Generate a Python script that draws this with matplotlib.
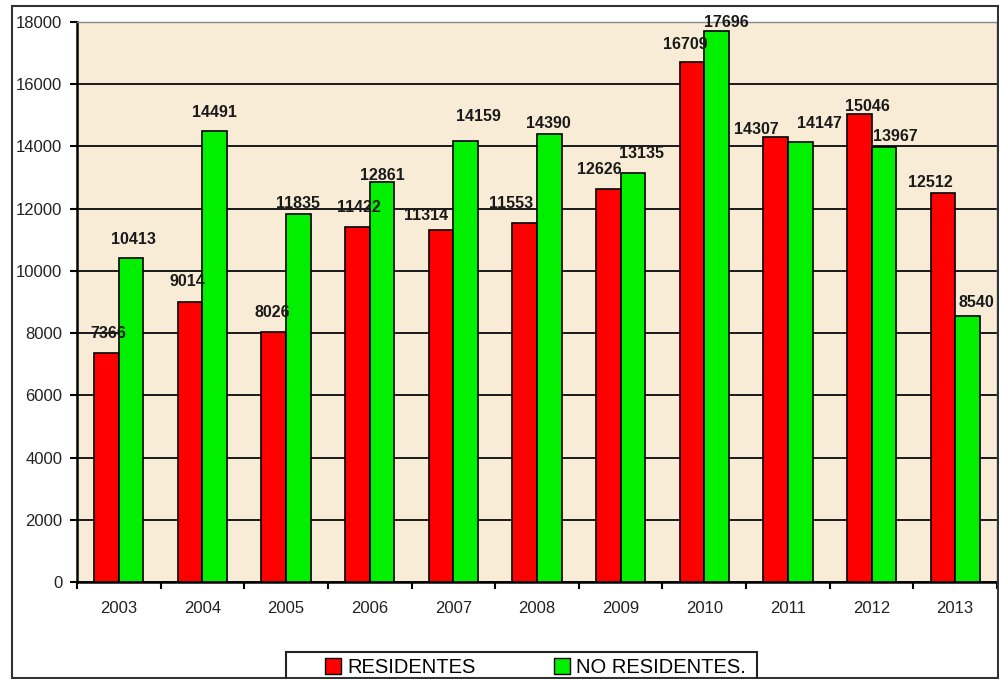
import matplotlib
matplotlib.use("Agg")
import matplotlib.pyplot as plt
import numpy as np
from matplotlib.patches import Rectangle, Patch

years = ["2003", "2004", "2005", "2006", "2007", "2008", "2009", "2010", "2011", "2012", "2013"]
residentes = [7366, 9014, 8026, 11422, 11314, 11553, 12626, 16709, 14307, 15046, 12512]
no_residentes = [10413, 14491, 11835, 12861, 14159, 14390, 13135, 17696, 14147, 13967, 8540]
yticks = [0, 2000, 4000, 6000, 8000, 10000, 12000, 14000, 16000, 18000]
legend_labels = ["RESIDENTES", "NO RESIDENTES."]

# label placement (pixel offsets of each value label from its bar top centre)
res_dx = [2, -3, -1, 2, -15, -14, -9, -7, -19, 8, -12]
res_dy = [15, 16, 15, 15, 10, 15, 15, 13, 3, 3, 6]
nores_dx = [2, 0, 0, 0, 13, -1, 9, 10, 19, 11, 9]
nores_dy = [14, 14, 6, 2, 20, 6, 15, 4, 14, 6, 9]

plt.rcParams['font.family'] = ['Liberation Sans', 'DejaVu Sans']

W, H = 999, 679
fig = plt.figure(figsize=(W / 100, H / 100), dpi=100)
fig.patch.set_facecolor("white")

# outer frame
fig.patches.append(Rectangle((12 / W, 1 - 678 / H), (998 - 12) / W, (678 - 6) / H,
                             transform=fig.transFigure, fill=False,
                             edgecolor="#333333", linewidth=1.5))

ax = fig.add_axes([77 / W, 1 - 582 / H, (997 - 77) / W, (582 - 22) / H])
ax.set_facecolor("#F9ECD6")

x = np.arange(len(years))
w = 0.295
b1 = ax.bar(x - w / 2, residentes, w, color="#FF0000", edgecolor="black", linewidth=1.2,
            label=legend_labels[0], zorder=3)
b2 = ax.bar(x + w / 2, no_residentes, w, color="#00F000", edgecolor="black", linewidth=1.2,
            label=legend_labels[1], zorder=3)

for bars, vals, dxs, dys in ((b1, residentes, res_dx, res_dy), (b2, no_residentes, nores_dx, nores_dy)):
    for rect, v, dx, dy in zip(bars, vals, dxs, dys):
        ax.annotate(str(v), (rect.get_x() + rect.get_width() / 2, v),
                    xytext=(dx, dy), textcoords="offset pixels",
                    ha="center", va="baseline", fontsize=11.5, fontweight="bold",
                    color="#1a1a1a", zorder=5, annotation_clip=False)

ax.set_xlim(-0.5, len(years) - 0.5)
ax.set_ylim(0, 18000)
ax.set_yticks(yticks)
ax.set_yticklabels([str(t) for t in yticks], fontsize=12, color="#222222")
ax.set_xticks(x)
ax.set_xticklabels(years, fontsize=12, color="#222222")
ax.tick_params(axis="x", length=0, pad=14)
ax.set_xticks(np.arange(len(years) + 1) - 0.5, minor=True)
ax.tick_params(axis="x", which="minor", length=5, width=1.5, direction="out", color="black")
ax.tick_params(axis="y", length=5, width=1.5, direction="out", pad=5.5, color="black")

ax.yaxis.grid(True, color="#1a1a1a", linewidth=1.4, zorder=1)
ax.set_axisbelow(True)
for s in ("top", "right"):
    ax.spines[s].set_color("#888888")
    ax.spines[s].set_linewidth(1.0)
for s in ("left", "bottom"):
    ax.spines[s].set_color("black")
    ax.spines[s].set_linewidth(1.8)

# legend frame
fig.patches.append(Rectangle((286 / W, 1 - 700 / H), (757 - 286) / W, (700 - 652) / H,
                             transform=fig.transFigure, fill=False,
                             edgecolor="#222222", linewidth=1.5, clip_on=False))
handles = [Patch(facecolor="#FF0000", edgecolor="black", linewidth=1.0),
           Patch(facecolor="#00F000", edgecolor="black", linewidth=1.0)]
fig.legend(handles, legend_labels, loc="upper left", bbox_to_anchor=(320 / W, 1 - 653 / H),
           ncol=2, frameon=False, fontsize=14.5, handlelength=0.8, handleheight=0.8,
           handletextpad=0.3, columnspacing=3.9, borderpad=0.25, borderaxespad=0)

fig.savefig("out.png", dpi=100)
